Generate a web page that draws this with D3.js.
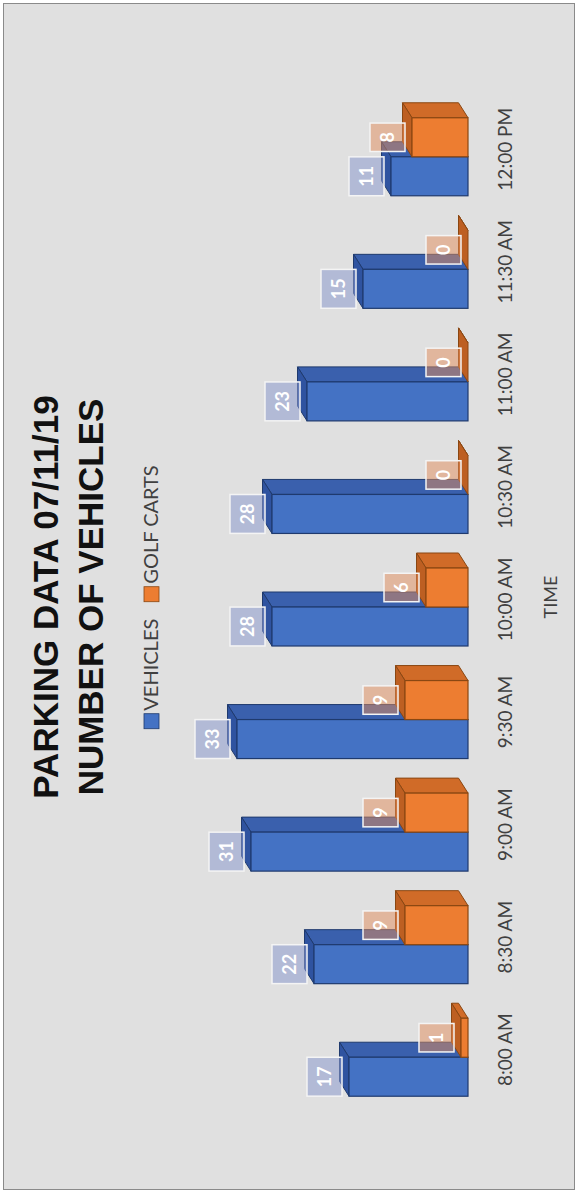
<!DOCTYPE html>
<html>
<head>
<meta charset="utf-8">
<script src="https://cdn.jsdelivr.net/npm/d3@7"></script>
<style>
  html, body { margin: 0; padding: 0; background: #ffffff; }
  svg { display: block; }
</style>
</head>
<body>
<svg id="chart" width="578" height="1193"></svg>
<script>
// Parking counts per half-hour, 07/11/19
const times = ["8:00 AM", "8:30 AM", "9:00 AM", "9:30 AM", "10:00 AM", "10:30 AM", "11:00 AM", "11:30 AM", "12:00 PM"];
const vehicles = [17, 22, 31, 33, 28, 28, 23, 15, 11];
const golfCarts = [1, 9, 9, 9, 6, 0, 0, 0, 8];
const seriesNames = ["VEHICLES", "GOLF CARTS"];
const titleLines = ["PARKING DATA 07/11/19", "NUMBER OF VEHICLES"];
const axisTitle = "TIME";

const svgW = 578, svgH = 1193;
// The chart is laid out landscape (W x H) and turned a quarter turn counter-clockwise.
const W = svgH, H = svgW;

const svg = d3.select("#chart");

// frame
svg.append("rect").attr("x", 0).attr("y", 0).attr("width", svgW).attr("height", svgH).attr("fill", "#ffffff");
svg.append("rect").attr("x", 3.5).attr("y", 3.5).attr("width", svgW - 7).attr("height", svgH - 7)
  .attr("fill", "#e0e0e0").attr("stroke", "#8a8a8a").attr("stroke-width", 1);

const g = svg.append("g").attr("transform", `translate(0,${svgH}) rotate(-90)`);

const styles = {
  "VEHICLES":   { front: "#4472c4", side: "#3a60ad", top: "#2f53a0", edge: "#1f3a6e", labelFill: "rgba(140,155,205,0.55)" },
  "GOLF CARTS": { front: "#ed7d31", side: "#d06b28", top: "#bd5f22", edge: "#8a4712", labelFill: "rgba(225,140,90,0.5)" }
};

const rows = times.map((t, i) => ({ time: t, "VEHICLES": vehicles[i], "GOLF CARTS": golfCarts[i] }));

// scales
const x0 = d3.scaleBand().domain(times).range([87, 1100]).padding(0);
const x1 = d3.scaleBand().domain(seriesNames).range([-46.5, 31.5]).padding(0);
const y = d3.scaleLinear().domain([0, 35]).range([468, 223]);

// 3-D depth offset of the columns
const DX = 15, DY = -9.5;

const center = t => x0(t) + x0.bandwidth() / 2;

const bars = g.append("g");
rows.forEach(row => {
  const grp = bars.append("g");
  seriesNames.forEach(s => {
    const st = styles[s];
    const u0 = center(row.time) + x1(s);
    const u1 = u0 + x1.bandwidth();
    const vt = y(row[s]), vb = y(0);
    // right side face
    grp.append("polygon")
      .attr("points", [[u1, vt], [u1 + DX, vt + DY], [u1 + DX, vb + DY], [u1, vb]].map(p => p.join(",")).join(" "))
      .attr("fill", st.side).attr("stroke", st.edge).attr("stroke-width", 1).attr("stroke-linejoin", "round");
    // top face
    grp.append("polygon")
      .attr("points", [[u0, vt], [u0 + DX, vt + DY], [u1 + DX, vt + DY], [u1, vt]].map(p => p.join(",")).join(" "))
      .attr("fill", st.top).attr("stroke", st.edge).attr("stroke-width", 1).attr("stroke-linejoin", "round");
    // front face
    grp.append("rect")
      .attr("x", u0).attr("y", vt).attr("width", u1 - u0).attr("height", vb - vt)
      .attr("fill", st.front).attr("stroke", st.edge).attr("stroke-width", 1.2);
  });
});

// value labels
const labels = g.append("g").attr("font-family", "Lato, 'Open Sans', sans-serif")
  .attr("font-size", 18).attr("font-weight", "bold");
rows.forEach(row => {
  seriesNames.forEach(s => {
    const st = styles[s];
    const cu = center(row.time) + x1(s) + x1.bandwidth() / 2;
    const vt = y(row[s]);
    const lg = labels.append("g");
    const txt = lg.append("text")
      .attr("x", cu).attr("y", vt - 7 - 11)
      .attr("text-anchor", "middle").attr("fill", "#ffffff")
      .text(row[s]);
    const tw = txt.node().getComputedTextLength();
    const bw = tw + 18, bh = 35;
    lg.insert("rect", "text")
      .attr("x", cu - bw / 2).attr("y", vt - 7 - bh)
      .attr("width", bw).attr("height", bh)
      .attr("fill", st.labelFill).attr("stroke", "#f4f4f4").attr("stroke-width", 1.5);
  });
});

// category axis
const axis = g.append("g").attr("transform", "translate(0,490)")
  .call(d3.axisBottom(x0).tickSize(0).tickPadding(0));
axis.select(".domain").remove();
axis.selectAll("text")
  .attr("font-family", "Lato, 'Open Sans', sans-serif")
  .attr("font-size", 19).attr("fill", "#404040")
  .attr("dy", "0").attr("y", 22);

// axis title
g.append("text").attr("x", 596).attr("y", 557).attr("text-anchor", "middle")
  .attr("font-family", "Lato, 'Open Sans', sans-serif").attr("font-size", 18).attr("fill", "#404040")
  .text(axisTitle);

// title
g.append("g").selectAll("text").data(titleLines).join("text")
  .attr("x", 596).attr("y", (d, i) => 58 + i * 45)
  .attr("text-anchor", "middle")
  .attr("font-family", "'Liberation Sans', Arial, sans-serif")
  .attr("font-weight", "bold").attr("font-size", 35).attr("fill", "#111111")
  .text(d => d);

// legend
const legend = g.append("g").attr("font-family", "Lato, 'Open Sans', sans-serif").attr("font-size", 20).attr("fill", "#404040");
let cursor = 0;
seriesNames.forEach((s, i) => {
  const it = legend.append("g");
  it.append("rect").attr("x", 0).attr("y", -14).attr("width", 15).attr("height", 15)
    .attr("fill", styles[s].front).attr("stroke", styles[s].edge).attr("stroke-width", 0.8);
  const t = it.append("text").attr("x", 18).attr("y", 0).text(s);
  const w = 18 + t.node().getComputedTextLength();
  it.attr("transform", `translate(${cursor},0)`);
  cursor += w + (i < seriesNames.length - 1 ? 17 : 0);
});
legend.attr("transform", `translate(${596 - cursor / 2},158)`);
</script>
</body>
</html>
